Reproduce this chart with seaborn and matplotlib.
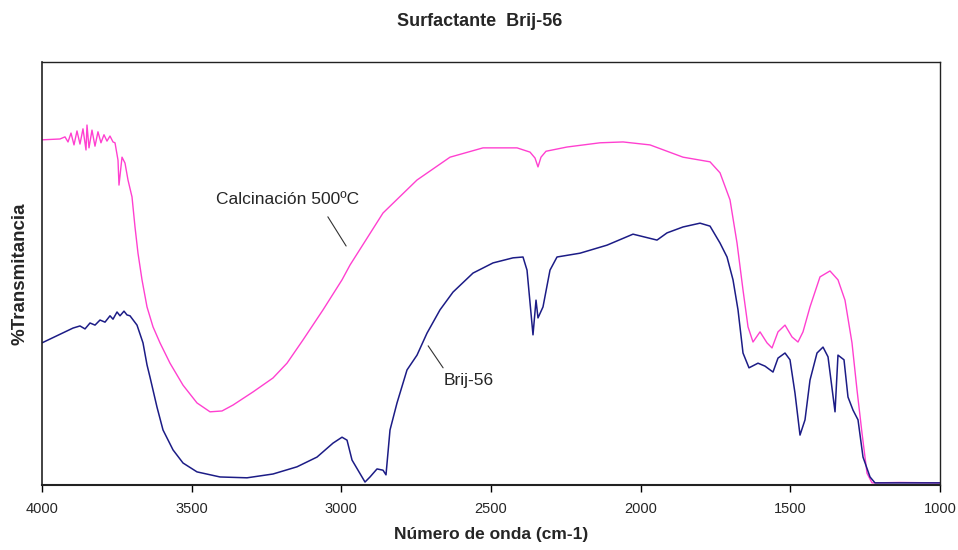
import numpy as np
import pandas as pd
import matplotlib
matplotlib.use("Agg")
import matplotlib.pyplot as plt
import seaborn as sns

# Calcinación 500ºC (pink) — wavenumber (cm-1), transmittance (arbitrary %, 0-100)
calc_wn = [4000, 3940, 3923.2, 3913.1, 3903.1, 3893.1, 3883.1, 3873.1, 3863.1, 3853.0,
           3849.7, 3843.0, 3833.0, 3823.0, 3813.0, 3803.0, 3792.9, 3782.9, 3772.9, 3762.8,
           3756.1, 3746.1, 3742.8, 3732.7, 3722.7, 3712.7, 3699.3, 3689.3, 3679.3, 3665.9,
           3649.2, 3629.2, 3605.8, 3572.4, 3528.9, 3482.2, 3438.7, 3398.7, 3361.9, 3295.1,
           3228.3, 3181.5, 3128.0, 3061.2, 2997.7, 2971, 2860.8, 2747.2, 2636.9, 2526.7,
           2413.1, 2369.7, 2353.0, 2343.0, 2333.0, 2316.2, 2246.1, 2135.8, 2058.9, 1968.8,
           1858.5, 1768.3, 1734.9, 1701.5, 1678.1, 1658.1, 1641.4, 1624.7, 1601.3, 1577.9,
           1561.2, 1541.2, 1517.8, 1494.4, 1474.4, 1457.7, 1434.3, 1400.9, 1367.5, 1340.8,
           1317.4, 1294.0, 1277.3, 1260.6, 1243.9, 1227.2, 1133.6, 1000]
calc_t = [81.6, 81.8, 82.3, 81.1, 83.2, 80.4, 83.7, 80.6, 84.2, 79.2,
          85.1, 79.7, 83.9, 80.1, 83.5, 80.9, 82.8, 81.3, 82.5, 81.1,
          80.9, 76.8, 70.9, 77.5, 76.1, 72.1, 68.1, 61.0, 54.8, 48.5,
          42.1, 37.4, 33.6, 28.8, 23.6, 19.4, 17.3, 17.5, 18.9, 22.0,
          25.3, 28.8, 34.3, 41.4, 48.5, 52.0, 64.3, 72.1, 77.5, 79.7,
          79.7, 78.7, 77.3, 75.2, 77.5, 78.9, 79.9, 80.9, 81.1, 80.4,
          77.5, 76.4, 73.8, 67.4, 57.2, 46.1, 37.4, 33.8, 36.2, 33.6,
          32.4, 36.2, 37.8, 35.0, 33.8, 36.2, 42.1, 49.2, 50.6, 48.5,
          43.7, 33.6, 22.5, 12.3, 2.8, 0.5, 0.6, 0.5]

# Brij-56 (navy)
brij_wn = [4000, 3896.4, 3873.1, 3856.3, 3839.6, 3822.9, 3806.2, 3789.5, 3772.8, 3762.8,
           3749.4, 3739.4, 3726.1, 3716.0, 3706.0, 3682.6, 3662.6, 3649.2, 3639.2, 3615.8,
           3595.7, 3562.3, 3528.9, 3482.2, 3405.3, 3315.1, 3228.3, 3148.1, 3081.3, 3027.8,
           2997.7, 2981.0, 2964.3, 2944.3, 2920.9, 2904.2, 2880.8, 2860.8, 2850.8, 2837.4,
           2814.0, 2780.6, 2747.2, 2713.8, 2670.4, 2627.0, 2560.1, 2493.3, 2426.5, 2393.1,
           2379.7, 2359.7, 2349.6, 2343.0, 2326.3, 2302.9, 2279.5, 2202.7, 2112.5, 2025.6,
           1945.4, 1912.0, 1858.5, 1801.7, 1768.3, 1734.9, 1711.5, 1691.5, 1674.8, 1658.1,
           1638.1, 1608.0, 1584.6, 1557.9, 1541.2, 1517.8, 1501.1, 1484.4, 1467.7, 1451.0,
           1434.3, 1410.9, 1390.8, 1374.1, 1350.7, 1340.8, 1320.7, 1307.4, 1290.6, 1273.9,
           1257.2, 1233.8, 1217.1, 1000]
brij_t = [33.6, 37.1, 37.6, 36.9, 38.3, 37.8, 39.0, 38.5, 40.0, 39.2,
          40.9, 40.0, 41.1, 40.2, 40.0, 37.8, 33.6, 28.4, 25.5, 18.4,
          13.0, 8.3, 5.2, 3.1, 1.9, 1.7, 2.6, 4.3, 6.6, 9.9,
          11.3, 10.6, 5.9, 3.5, 0.7, 1.9, 3.8, 3.5, 2.4, 13.0,
          19.4, 27.2, 30.7, 35.9, 41.4, 45.6, 50.1, 52.5, 53.7, 53.9,
          50.8, 35.5, 43.7, 39.5, 42.1, 50.8, 53.9, 54.8, 56.7, 59.3,
          57.9, 59.6, 61.0, 61.9, 61.2, 57.2, 53.9, 48.5, 41.4, 31.2,
          27.7, 28.8, 28.1, 26.7, 30.0, 31.2, 29.6, 21.7, 11.8, 15.4,
          24.8, 31.2, 32.6, 30.3, 17.3, 30.7, 29.6, 20.8, 17.7, 15.4,
          6.6, 1.9, 0.5, 0.5]

x_ticks = [4000, 3500, 3000, 2500, 2000, 1500, 1000]

sns.set_theme(style="white")
plt.rcParams['font.family'] = ['Liberation Sans', 'DejaVu Sans']

fig = plt.figure(figsize=(9.58, 5.5), dpi=100)
ax = fig.add_axes([42/958, 1-485/550, (940-42)/958, (485-62)/550])

df_c = pd.DataFrame({"wn": calc_wn, "t": calc_t})
df_b = pd.DataFrame({"wn": brij_wn, "t": brij_t})
sns.lineplot(data=df_c, x="wn", y="t", ax=ax, color="#ff40d0", linewidth=1.0,
             sort=False, estimator=None)
sns.lineplot(data=df_b, x="wn", y="t", ax=ax, color="#1c1c86", linewidth=1.1,
             sort=False, estimator=None)

ax.set_xlim(4000, 1000)
ax.set_ylim(0, 100)
ax.set_xticks(x_ticks)
ax.set_xticklabels([str(v) for v in x_ticks], fontsize=10.5)
ax.set_yticks([])
ax.tick_params(axis='x', direction='out', length=5, width=1, color='black', pad=7)
ax.xaxis.set_ticks_position('bottom')
for s in ax.spines.values():
    s.set_visible(True)
    s.set_color('#222222')
    s.set_linewidth(1.0)
ax.spines['bottom'].set_linewidth(1.5)
ax.spines['left'].set_linewidth(1.2)

ax.set_xlabel("Número de onda (cm-1)", fontsize=12.5, fontweight='bold', labelpad=8)
ax.set_ylabel("%Transmitancia", fontsize=13.5, fontweight='bold', labelpad=10)
fig.suptitle("Surfactante  Brij-56", x=480/958, y=1-22/550, va='center',
             fontsize=13, fontweight='bold')

ax.text(3181, 67.4, "Calcinación 500ºC", fontsize=12.5, ha='center', va='center')
ax.plot([3045, 2984], [63.4, 56.5], color='#333333', linewidth=0.8)
ax.text(2574, 24.8, "Brij-56", fontsize=12.5, ha='center', va='center')
ax.plot([2710, 2660], [32.9, 27.7], color='#333333', linewidth=0.8)

fig.savefig("out.png", dpi=100)
